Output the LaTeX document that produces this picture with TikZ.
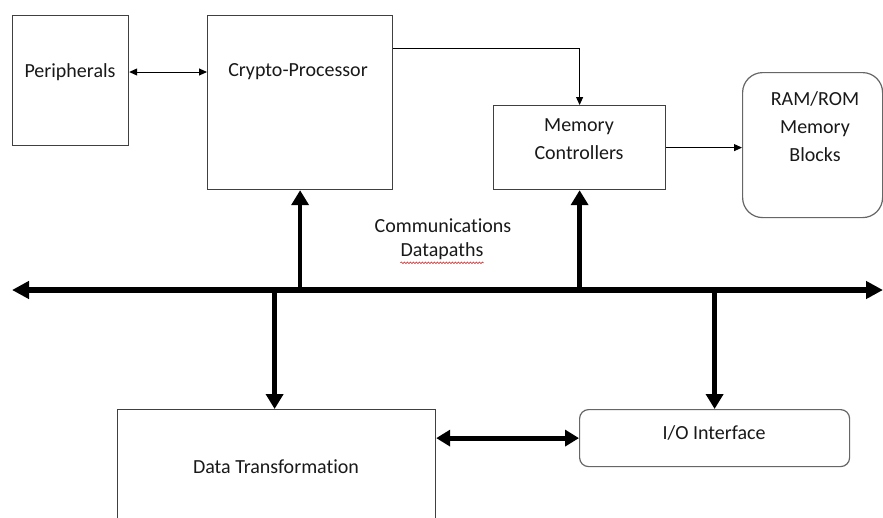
\documentclass[tikz,border=0pt]{standalone}
\usepackage{fontspec}
\setmainfont{Carlito}[Ligatures=NoCommon]
\usetikzlibrary{arrows.meta,decorations.pathmorphing}
\begin{document}
\begin{tikzpicture}[x=1pt,y=-1pt,
  box/.style={draw=black!75, line width=1.2pt, inner sep=0pt, anchor=north west},
  rbox/.style={draw=black!60, line width=1.2pt, inner sep=0pt, anchor=north west},
  lbl/.style={font=\fontsize{20}{28}\selectfont, align=center, inner sep=0pt, text=black!90},
  thinarr/.style={line width=1pt, -{Triangle[length=8pt,width=7pt]}},
  thinbi/.style={line width=1pt, {Triangle[length=8pt,width=7pt]}-{Triangle[length=8pt,width=7pt]}},
  bus/.style={line width=5.5pt, {Triangle[length=17pt,width=17pt]}-{Triangle[length=17pt,width=17pt]}},
  busarr/.style={line width=4.5pt, -{Triangle[length=15pt,width=17pt]}},
  busbi/.style={line width=5pt, {Triangle[length=14pt,width=16pt]}-{Triangle[length=14pt,width=16pt]}},
  squig/.style={draw=red!80!black, line width=0.5pt, decorate, decoration={snake, amplitude=0.8pt, segment length=3pt}}
  ]
\clip (0,0) rectangle (883,517);
\fill[white] (0,0) rectangle (883,517);

% boxes
\node[box, minimum width=116pt, minimum height=130pt] (per) at (12,15) {};
\node[box, minimum width=185pt, minimum height=174pt] (cry) at (207,15) {};
\node[box, minimum width=172pt, minimum height=84pt] (mem) at (493,105) {};
\node[rbox, rounded corners=20pt, minimum width=140pt, minimum height=145pt] (ram) at (742,72) {};
\node[box, minimum width=318pt, minimum height=130pt] (dat) at (117,409) {};
\node[rbox, rounded corners=9pt, minimum width=270pt, minimum height=57pt] (io) at (579,409) {};

% labels
\node[lbl] (perl) at (70,72) {Peripherals};
\node[lbl] (cryl) at (298,72) {Crypto-Processor};
\node[lbl] (meml) at (579,139) {Memory\\Controllers};
\node[lbl] (raml) at (815,127) {RAM/ROM\\Memory\\Blocks};
\node[lbl] (datl) at (276,467) {Data Transformation};
\node[lbl] (iol) at (714,433) {I/O Interface};
\node[lbl] (comm) at (443,226) {Communications};
\node[lbl] (dpath) at (442,251) {Datapaths};
\draw[squig] ([yshift=-3pt]dpath.south west) -- ([yshift=-3pt]dpath.south east);

% thin connectors
\draw[thinbi] (per.east |- perl) -- (cry.west |- perl);
\draw[thinarr] ([yshift=-33pt]cry.north east) -| (mem.north);
\draw[thinarr] (mem.east) -- (mem.east -| ram.west);

% bus
\coordinate (busL) at (12,290);
\coordinate (busR) at (883,290);
\draw[bus] (busL) -- (busR);

% bus taps
\draw[busarr] (busL -| cry.south) -- (cry.south);
\draw[busarr] (busL -| mem.south) -- (mem.south);
\draw[busarr] ([xshift=-2pt]busL -| dat.north) -- ([xshift=-2pt]dat.north);
\draw[busarr] (busL -| io.north) -- (io.north);
\draw[busbi] (dat.east |- io.west) -- (io.west);
\end{tikzpicture}
\end{document}
